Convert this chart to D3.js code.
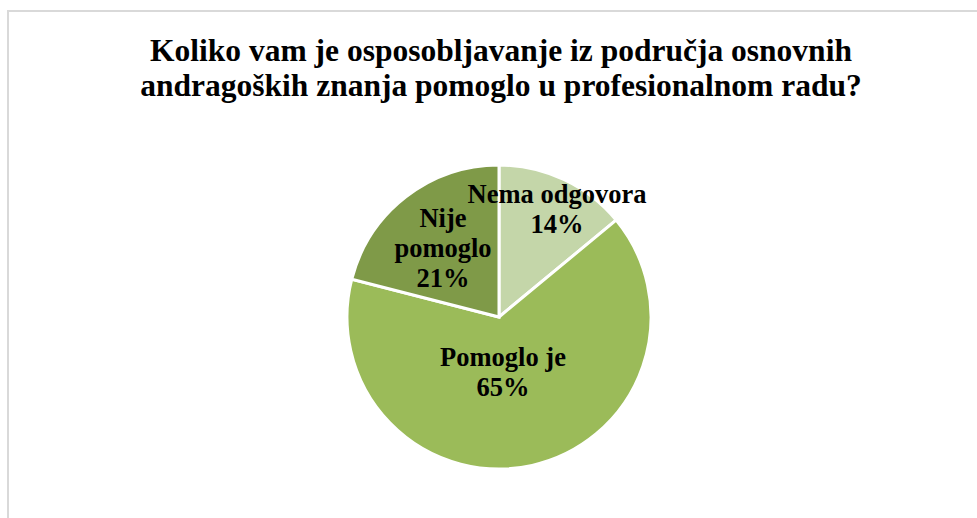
<!DOCTYPE html>
<html>
<head>
<meta charset="utf-8">
<script src="https://cdn.jsdelivr.net/npm/d3@7"></script>
<style>
body { margin: 0; background: #fff; }
</style>
</head>
<body>
<svg id="chart" width="977" height="518"></svg>
<script>
var categories = ["Nema odgovora", "Pomoglo je", "Nije pomoglo"];
var values = [14, 65, 21];
var labelLines = [["Nema odgovora", "14%"], ["Pomoglo je", "65%"], ["Nije", "pomoglo", "21%"]];
var colors = ["#c4d6a9", "#9bbb59", "#7f9a48"];
var titleLines = ["Koliko vam je osposobljavanje iz područja osnovnih",
                  "andragoških znanja pomoglo u profesionalnom radu?"];

var w = 977, h = 518;
var svg = d3.select("#chart");

// frame
svg.append("rect")
    .attr("x", 8).attr("y", 11)
    .attr("width", 980).attr("height", 520)
    .attr("fill", "none")
    .attr("stroke", "#d9d9d9")
    .attr("stroke-width", 2);

// title
svg.append("text")
    .attr("text-anchor", "middle")
    .attr("font-family", "'Liberation Serif', 'Times New Roman', serif")
    .attr("font-weight", "bold")
    .attr("font-size", 31.5)
    .selectAll("tspan")
    .data(titleLines)
    .enter()
    .append("tspan")
    .attr("x", 501)
    .attr("y", function (d, i) { return 61 + i * 35; })
    .text(function (d) { return d; });

var cx = 499, cy = 317, r = 152;
var pie = d3.pie().sort(null).value(function (d) { return d; });
var arcs = pie(values);
var arc = d3.arc().innerRadius(0).outerRadius(r);

var g = svg.append("g").attr("transform", "translate(" + cx + "," + cy + ")");

g.selectAll("path")
    .data(arcs)
    .enter()
    .append("path")
    .attr("d", arc)
    .attr("fill", function (d, i) { return colors[i]; })
    .attr("stroke", "#fff")
    .attr("stroke-width", 3);

// label positions relative to center (first line baseline)
var labelPos = [[58, -114], [4, 49], [-56, -90]];

g.selectAll("text.lbl")
    .data(arcs)
    .enter()
    .append("text")
    .attr("class", "lbl")
    .attr("text-anchor", "middle")
    .attr("font-family", "'Liberation Serif', 'Times New Roman', serif")
    .attr("font-weight", "bold")
    .attr("font-size", 26.5)
    .attr("fill", "#000")
    .each(function (d, i) {
        var t = d3.select(this);
        labelLines[i].forEach(function (line, j) {
            t.append("tspan")
                .attr("x", labelPos[i][0])
                .attr("y", labelPos[i][1] + j * 30)
                .text(line);
        });
    });
</script>
</body>
</html>
